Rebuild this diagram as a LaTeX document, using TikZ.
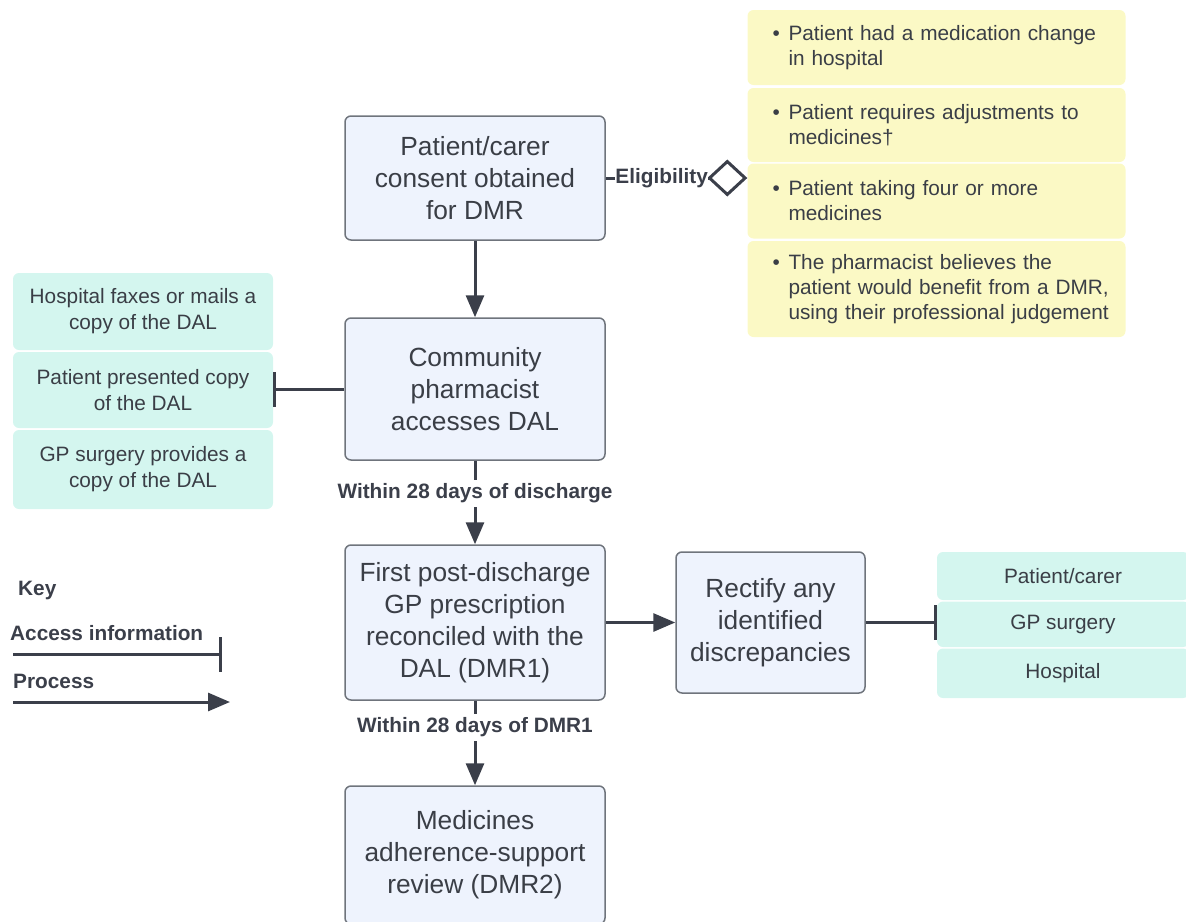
\documentclass[tikz,border=0pt]{standalone}
\usepackage{fontspec}
\setmainfont{Liberation Sans}
\usetikzlibrary{arrows.meta,calc}
\definecolor{ink}{HTML}{3B3F4A}
\definecolor{txt}{HTML}{3A3E46}
\definecolor{bluefill}{HTML}{EEF3FD}
\definecolor{blueline}{HTML}{6F747C}
\definecolor{yellowfill}{HTML}{FBF9C5}
\definecolor{greenfill}{HTML}{D4F6EF}
% bullet item lines for the criteria boxes
\newcommand{\critfirst}{\hspace*{12pt}\makebox[16pt][l]{•}}
\newcommand{\critnext}{\\\hspace*{28pt}}
\begin{document}
\begin{tikzpicture}[x=1pt,y=-1pt,
  stepbox/.style={draw=blueline, line width=1.5pt, fill=bluefill, rounded corners=6pt,
    align=center, text=txt, font=\fontsize{26.3}{32}\selectfont, inner sep=0pt,
    minimum width=260pt},
  crit/.style={fill=yellowfill, rounded corners=6pt, text=txt,
    font=\fontsize{20.8}{25}\selectfont, align=left, inner xsep=13pt, inner ysep=0pt,
    text width=352pt, minimum width=378pt},
  src/.style={fill=greenfill, rounded corners=6pt, text=txt,
    font=\fontsize{20.8}{26}\selectfont, align=center, inner sep=0pt, minimum width=260pt},
  flow/.style={draw=ink, line width=3pt, -{Triangle[length=22pt,width=18pt]}},
  access/.style={draw=ink, line width=3pt, -{Bar[width=35pt]}},
  tag/.style={font=\bfseries\fontsize{20.8}{25}\selectfont, text=ink, fill=white,
    inner xsep=0pt, inner ysep=4pt},
  keytext/.style={font=\bfseries\fontsize{20.8}{25}\selectfont, text=ink, anchor=west,
    inner sep=0pt}
]
\useasboundingbox (0,0) rectangle (1186,921);

% main process steps
\node[stepbox, minimum height=124pt] (c1) at (475,178)
  {Patient/carer\\consent obtained\\for DMR};
\node[stepbox, minimum height=142pt] (c2) at (475,389)
  {Community\\pharmacist\\accesses DAL};
\node[stepbox, minimum height=155pt] (c3) at (475,622.5)
  {First post-discharge\\GP prescription\\reconciled with the\\DAL (DMR1)};
\node[stepbox, minimum height=138pt] (c4) at (475,855)
  {Medicines\\adherence-support\\review (DMR2)};
\node[stepbox, minimum width=189pt, minimum height=141pt] (rect) at (770.5,622.5)
  {Rectify any\\identified\\discrepancies};

% eligibility criteria
\node[crit, minimum height=75pt] (crit1) at (936.5,47.5)
  {\critfirst Patient had a medication change\critnext in hospital};
\node[crit, minimum height=74pt] (crit2) at (936.5,125)
  {\critfirst Patient requires adjustments to\critnext medicines†};
\node[crit, minimum height=75pt] (crit3) at (936.5,201)
  {\critfirst Patient taking four or more\critnext medicines};
\node[crit, minimum height=96pt] (crit4) at (936.5,289)
  {\critfirst The pharmacist believes the\critnext patient would benefit from a DMR,\critnext using their professional judgement};

% sources of the DAL
\node[src, minimum height=77pt] (src1) at (143,311.5) {Hospital faxes or mails a\\copy of the DAL};
\node[src, minimum height=76pt] (src2) at (143,390) {Patient presented copy\\of the DAL};
\node[src, minimum height=79pt] (src3) at (143,469.5) {GP surgery provides a\\copy of the DAL};

% contacts for discrepancies
\node[src, minimum width=252pt, minimum height=48pt] (tgt1) at (1063,576) {Patient/carer};
\node[src, minimum width=252pt, minimum height=45.5pt] (tgt2) at (1063,624.25) {GP surgery};
\node[src, minimum width=252pt, minimum height=49.5pt] (tgt3) at (1063,673.25) {Hospital};

% connectors
\draw[draw=ink, line width=3pt, -{Diamond[open,length=40pt,width=37pt]}]
  (c1.east) -- node[tag, pos=0.395] (elig) {Eligibility} (c1.east -| crit1.west);
\draw[flow] (c1) -- (c2);
\draw[access] (c2.west) -- (c2.west -| src2.east);
\draw[flow] (c2) -- node[tag, pos=0.39] (lbl28a) {Within 28 days of discharge} (c3);
\draw[flow] (c3) -- node[tag, pos=0.314] (lbl28b) {Within 28 days of DMR1} (c4);
\draw[flow] (c3.east) -- (c3.east -| rect.west);
\draw[access] (rect.east) -- (rect.east -| tgt2.west);

% key
\node[keytext] (keyttl) at (18,590) {Key};
\node[keytext] (keyacc) at (10,633.5) {Access information};
\node[keytext] (keyproc) at (13,681.5) {Process};
\coordinate (a0) at (13,654.5);
\coordinate (a1) at (222,654.5);
\coordinate (p0) at (13,702);
\coordinate (p1) at (230,702);
\draw[access] (a0) -- (a1);
\draw[flow] (p0) -- (p1);
\end{tikzpicture}
\end{document}
